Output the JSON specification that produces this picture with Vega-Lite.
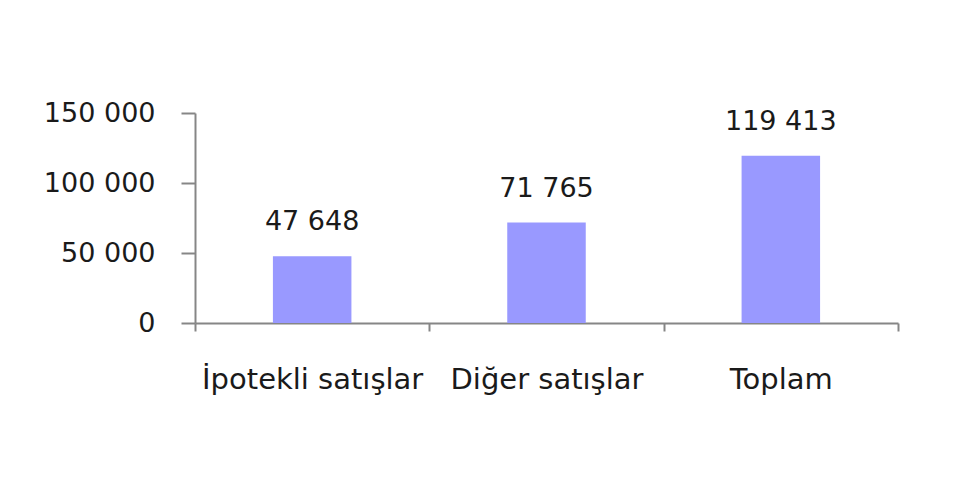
{
  "$schema": "https://vega.github.io/schema/vega-lite/v6.json",
  "autosize": "none",
  "width": 703,
  "height": 210,
  "padding": {"left": 195, "top": 113, "right": 62, "bottom": 157},
  "background": "white",
  "config": {
    "locale": {"number": {"decimal": ",", "thousands": " ", "grouping": [3], "currency": ["", ""]}},
    "view": {"stroke": null},
    "font": "DejaVu Sans"
  },
  "data": {"values": [
    {"kategori": "İpotekli satışlar", "deger": 47648},
    {"kategori": "Diğer satışlar", "deger": 71765},
    {"kategori": "Toplam", "deger": 119413}
  ]},
  "encoding": {
    "x": {"field": "kategori", "type": "nominal", "sort": null,
      "scale": {"paddingInner": 0, "paddingOuter": 0},
      "axis": {"title": null, "labelAngle": 0, "labelFontSize": 29, "labelColor": "#1a1a1a",
        "labelPadding": 34, "labelLimit": 0, "tickBand": "extent", "tickSize": 8, "tickColor": "#868686",
        "domainColor": "#868686", "domainWidth": 2, "tickWidth": 2, "labelFont": "DejaVu Sans"}},
    "y": {"field": "deger", "type": "quantitative",
      "scale": {"domain": [0, 150000], "nice": false},
      "axis": {"title": null, "values": [0, 50000, 100000, 150000], "format": ",d", "grid": false,
        "labelFontSize": 27, "labelColor": "#1a1a1a", "labelPadding": 26, "tickSize": 14,
        "tickColor": "#868686", "domainColor": "#868686", "domainWidth": 2, "tickWidth": 2,
        "labelFont": "DejaVu Sans"}}
  },
  "layer": [
    {"mark": {"type": "bar", "color": "#9999FF", "width": {"band": 0.335}}},
    {"mark": {"type": "text", "dy": -26, "fontSize": 27, "color": "#1a1a1a", "baseline": "alphabetic"},
     "encoding": {"text": {"field": "deger", "type": "quantitative", "format": ",d"}}}
  ]
}
